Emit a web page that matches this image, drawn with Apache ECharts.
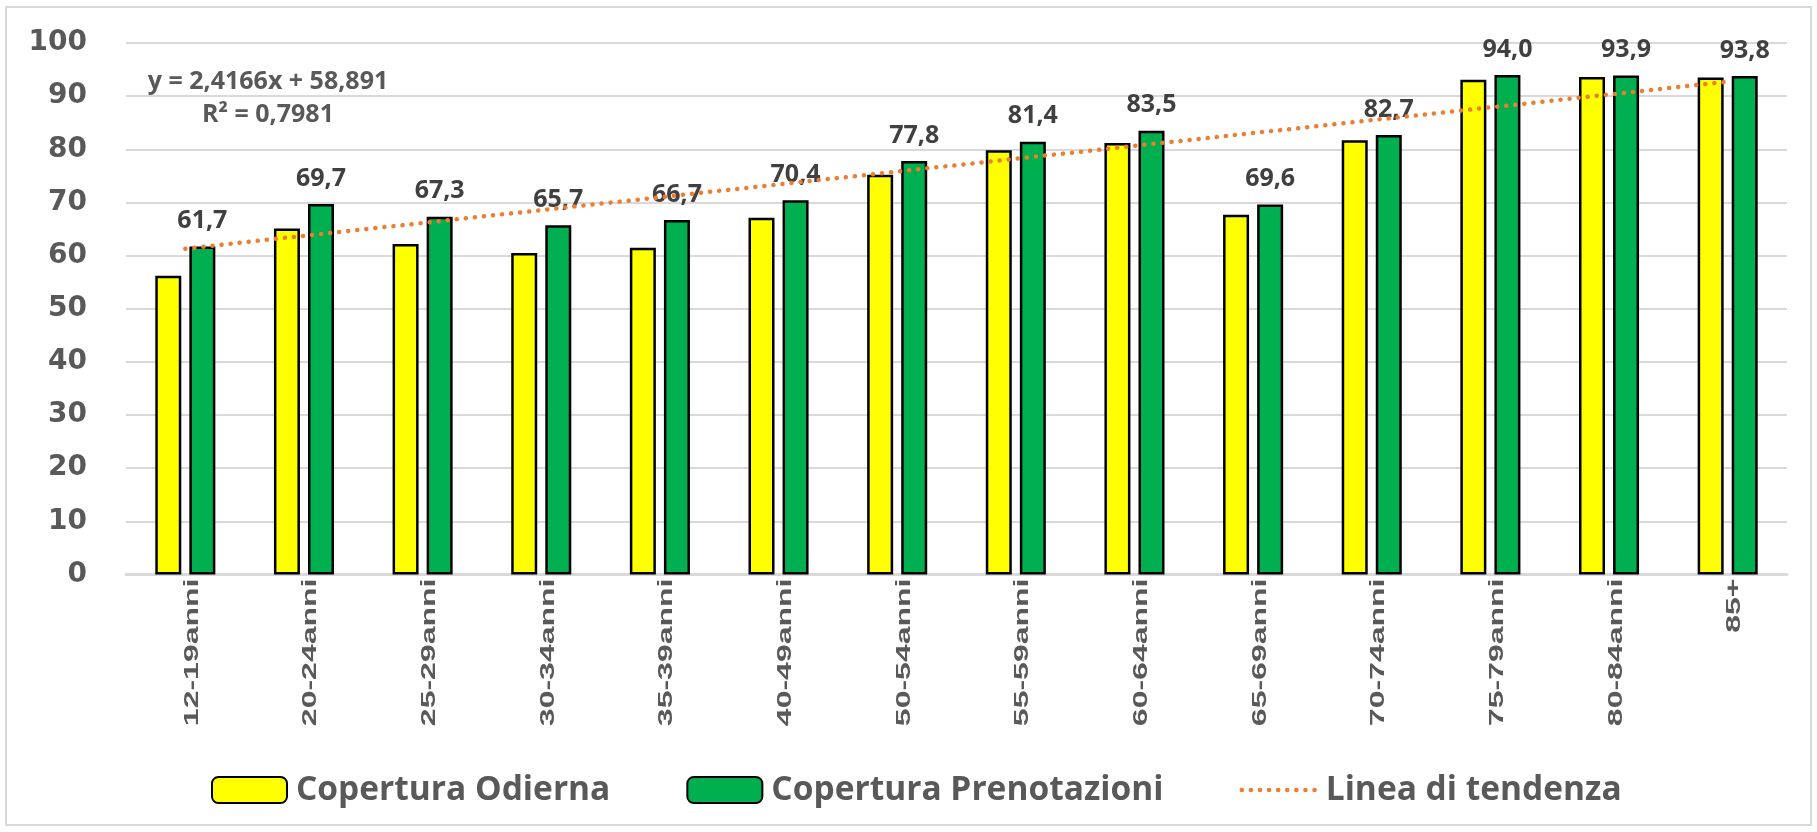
<!DOCTYPE html>
<html>
<head>
<meta charset="utf-8">
<script src="https://cdn.jsdelivr.net/npm/echarts@6/dist/echarts.min.js"></script>
<style>
  html, body { margin: 0; padding: 0; background: #ffffff; }
  #chart { width: 1817px; height: 832px; }
</style>
</head>
<body>
<div id="chart"></div>
<script>
// Age groups on the x axis
const categories = ['12-19anni', '20-24anni', '25-29anni', '30-34anni', '35-39anni', '40-49anni',
  '50-54anni', '55-59anni', '60-64anni', '65-69anni', '70-74anni', '75-79anni', '80-84anni', '85+'];

// Current coverage (%)
const coperturaOdierna = [56.2, 65.1, 62.2, 60.5, 61.5, 67.1, 75.2, 79.8, 81.2, 67.7, 81.7, 93.1, 93.6, 93.5];

// Coverage including bookings (%)
const coperturaPrenotazioni = [61.7, 69.7, 67.3, 65.7, 66.7, 70.4, 77.8, 81.4, 83.5, 69.6, 82.7, 94.0, 93.9, 93.8];

// Linear trend fitted on the bookings series (x = 1 .. n)
const trendSlope = 2.4166;
const trendIntercept = 58.891;
const trendR2 = 0.7981;

const yTicks = { min: 0, max: 100, interval: 10 };

const fmt = (v, d) => v.toFixed(d).replace('.', ',');
const trendValues = categories.map((_, i) => trendSlope * (i + 1) + trendIntercept);

const chart = echarts.init(document.getElementById('chart'), null, { renderer: 'canvas' });

const GREY_TEXT = '#595959';
const DARK_TEXT = '#404040';
const GRID_LINE = '#d9d9d9';
const TREND_COLOR = '#ed7d31';
const trendLineStyle = { color: TREND_COLOR, width: 4.5, type: [0.1, 9], cap: 'round' };

chart.setOption({
  animation: false,
  backgroundColor: '#ffffff',
  grid: { left: 126, right: 30, top: 43, bottom: 257.5, containLabel: false },
  legend: {
    left: 211,
    top: 773,
    padding: 0,
    itemWidth: 75,
    itemHeight: 26,
    itemGap: 76,
    data: [
      'Copertura Odierna',
      'Copertura Prenotazioni',
      { name: 'Linea di tendenza', itemStyle: { opacity: 0 }, lineStyle: trendLineStyle }
    ],
    textStyle: {
      fontFamily: '"Open Sans"',
      fontWeight: 'bold',
      fontSize: 33.5,
      color: GREY_TEXT,
      padding: [0, 0, 0, 4]
    }
  },
  xAxis: {
    type: 'category',
    data: categories,
    axisLine: { lineStyle: { color: GRID_LINE, width: 3 } },
    axisTick: { show: false },
    axisLabel: { show: false }
  },
  yAxis: {
    type: 'value',
    min: yTicks.min,
    max: yTicks.max,
    interval: yTicks.interval,
    axisLine: { show: false },
    axisTick: { show: false },
    splitLine: { lineStyle: { color: GRID_LINE, width: 2 } },
    axisLabel: {
      margin: 39,
      fontFamily: '"DejaVu Sans"',
      fontWeight: 'bold',
      fontSize: 28,
      color: GREY_TEXT
    }
  },
  graphic: [
    {
      type: 'rect',
      shape: { x: 6, y: 7, width: 1805, height: 818 },
      style: { fill: 'none', stroke: GRID_LINE, lineWidth: 2 },
      silent: true,
      z: -10
    },
    {
      type: 'text',
      x: 268, y: 82,
      style: {
        text: 'y = ' + fmt(trendSlope, 4) + 'x + ' + fmt(trendIntercept, 3),
        font: 'bold 25px "Open Sans"',
        fill: GREY_TEXT,
        align: 'center',
        verticalAlign: 'middle'
      },
      z: 20
    },
    {
      type: 'text',
      x: 268, y: 115,
      style: {
        text: 'R² = ' + fmt(trendR2, 4),
        font: 'bold 25px "Open Sans"',
        fill: GREY_TEXT,
        align: 'center',
        verticalAlign: 'middle'
      },
      z: 20
    }
  ],
  series: [
    {
      name: 'Copertura Odierna',
      type: 'bar',
      data: coperturaOdierna,
      barWidth: 26,
      barGap: '31%',
      itemStyle: { color: '#ffff00', borderColor: '#000000', borderWidth: 2.5 }
    },
    {
      name: 'Copertura Prenotazioni',
      type: 'bar',
      data: coperturaPrenotazioni,
      barWidth: 26,
      barGap: '31%',
      itemStyle: { color: '#00b050', borderColor: '#000000', borderWidth: 2.5 },
      label: {
        show: true,
        position: 'top',
        distance: 13,
        fontFamily: '"Open Sans"',
        fontWeight: 'bold',
        fontSize: 25,
        color: DARK_TEXT,
        formatter: p => fmt(p.value, 1)
      }
    },
    {
      name: 'Linea di tendenza',
      type: 'line',
      data: trendValues,
      symbol: 'none',
      z: 5,
      lineStyle: trendLineStyle,
      itemStyle: { color: TREND_COLOR }
    },
    {
      // rotated, condensed category labels under each group
      name: 'categoryLabels',
      type: 'custom',
      silent: true,
      clip: false,
      data: categories.map((c, i) => [i, 0]),
      renderItem: function (params, api) {
        const p = api.coord([api.value(0), 0]);
        return {
          type: 'text',
          x: p[0] + 7,
          y: p[1] + 4,
          rotation: Math.PI / 2,
          scaleX: 1,
          scaleY: 0.62,
          style: {
            text: categories[params.dataIndex],
            font: 'bold 32px "Liberation Sans"',
            fill: GREY_TEXT,
            align: 'right',
            verticalAlign: 'middle'
          }
        };
      }
    }
  ]
});
</script>
</body>
</html>
